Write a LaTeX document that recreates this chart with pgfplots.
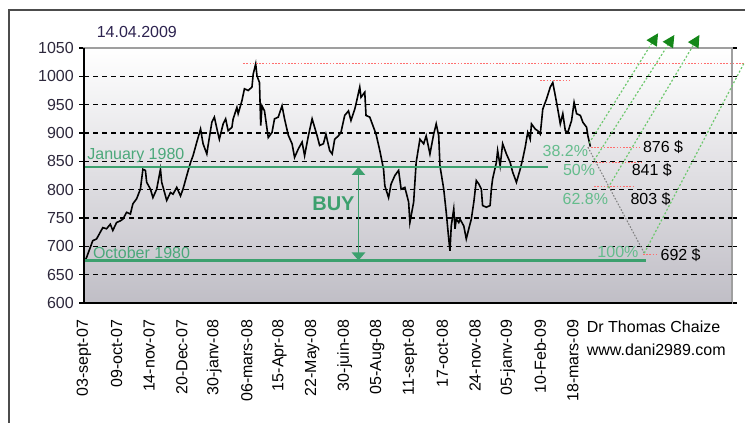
\documentclass[border=0pt,12pt]{standalone}
\usepackage{fontspec}
\setmainfont{Liberation Sans}
\usepackage{pgfplots}
\pgfplotsset{compat=1.18}
\usetikzlibrary{arrows.meta}
\definecolor{lgreen}{RGB}{60,160,110}
\definecolor{tgreen}{RGB}{75,168,122}
\definecolor{pgreen}{RGB}{100,188,140}
\definecolor{dgreen}{RGB}{20,135,25}
\definecolor{dotgreen}{RGB}{110,200,110}
\definecolor{rdot}{RGB}{255,110,110}
\definecolor{bgbot}{RGB}{192,190,198}
\definecolor{ticktext}{RGB}{45,40,60}
\definecolor{datetext}{RGB}{45,35,80}
\tikzset{rdl/.style={rdot, line width=0.9pt, dash pattern=on 1.2pt off 1.2pt}}
\begin{document}
\begin{tikzpicture}
\path[use as bounding box] (-63pt,-90pt) rectangle (495.75pt,227.25pt);
\draw[line width=1pt, black!70] (-56.25pt,-90pt) -- (-56.25pt,219.75pt) -- (495.75pt,219.75pt);
\begin{axis}[
  scale only axis, width=486pt, height=191.25pt,
  xmin=0, xmax=517, ymin=600, ymax=1050,
  clip=false,
  axis background/.style={shade, top color=white, bottom color=bgbot},
  axis line style={draw=gray!75, line width=0.8pt},
  xtick={0,26,...,390},
  xticklabels={03-sept-07,09-oct-07,14-nov-07,20-Dec-07,30-janv-08,06-mars-08,15-Apr-08,22-May-08,30-juin-08,05-Aug-08,11-sept-08,17-oct-08,24-nov-08,05-janv-09,10-Feb-09,18-mars-09},
  xtick style={draw=none},
  ytick={600,650,...,1050},
  ytick style={black, line width=0.8pt},
  tick align=outside, major tick length=3.5pt,
  extra y ticks={650,700,...,1000},
  extra y tick labels={},
  extra y tick style={ymajorgrids=true, major tick length=0pt},
  grid style={black, dash pattern=on 3.8pt off 3pt, line width=0.9pt},
  ticklabel style={font=\normalsize},
  yticklabel style={text=ticktext},
  xticklabel style={rotate=90, anchor=east},
  xticklabel shift=5pt,
  /pgf/number format/assume math mode=true,
  /pgf/number format/1000 sep={},
]
\addplot[black, line width=1.2pt, mark=none] coordinates {
(0,672)(2,680)(5,698)(7,710)(10,713)(13,725)(15,733)(18,731)(21,739)(23,728)(26,742)(29,745)(31,748)(34,760)(37,757)(39,775)(42,784)(45,801)(47,836)(49,834)(50,813)(53,801)(55,786)(58,801)(61,836)(62,813)(65,789)(66,781)(69,795)(71,792)(74,804)(77,789)(79,801)(82,825)(85,848)(87,860)(90,884)(93,907)(95,881)(98,863)(99,878)(102,919)(104,928)(107,898)(108,889)(111,916)(113,925)(115,904)(118,910)(119,925)(122,945)(123,934)(126,957)(128,978)(131,975)(134,981)(135,1004)(137,1022)(138,1001)(140,989)(141,913)(142,948)(144,939)(147,892)(150,901)(152,925)(155,928)(158,948)(160,925)(163,896)(166,881)(168,857)(171,872)(174,884)(176,860)(179,895)(182,925)(186,895)(188,878)(191,881)(193,898)(196,869)(198,863)(200,889)(203,895)(205,901)(208,931)(211,939)(213,922)(216,942)(217,951)(220,981)(221,963)(224,972)(225,931)(228,928)(231,910)(233,898)(236,869)(239,836)(240,807)(243,786)(245,810)(248,825)(251,834)(253,801)(256,804)(259,778)(260,742)(263,778)(265,848)(268,889)(271,881)(273,895)(276,863)(279,898)(281,916)(283,895)(284,842)(287,801)(289,760)(291,713)(292,692)(293,736)(295,766)(296,731)(297,748)(299,742)(300,748)(303,736)(305,713)(307,731)(309,748)(311,778)(313,816)(315,810)(317,801)(318,772)(321,769)(324,772)(325,801)(326,819)(329,848)(330,869)(332,842)(334,881)(337,863)(340,848)(342,831)(345,813)(348,836)(350,854)(352,875)(354,901)(356,889)(357,916)(360,907)(362,904)(364,898)(365,919)(366,942)(369,960)(372,981)(374,989)(376,966)(378,942)(380,916)(382,934)(384,904)(386,901)(389,922)(391,954)(393,934)(396,931)(398,919)(401,910)(402,895)(404,876)
};
% horizontal green levels
\draw[lgreen, line width=2.2pt] (axis cs:0,840) -- (axis cs:370,840);
\draw[lgreen, line width=2.2pt] (axis cs:0,675) -- (axis cs:448,675);
\node[anchor=west, text=tgreen, inner sep=0pt] at (axis cs:2.5,861) {January 1980};
\node[anchor=west, text=tgreen, inner sep=0pt] at (axis cs:7,688) {October 1980};
% BUY arrow
\draw[lgreen, line width=1.1pt, {Triangle[length=6pt,width=10pt]}-{Triangle[length=6pt,width=10pt]}] (axis cs:219,840) -- (axis cs:219,675);
\node[text=lgreen, font=\fontsize{15}{18}\selectfont\bfseries] at (axis cs:199,776) {BUY};
% red dotted levels
\draw[rdl] (axis cs:127,1022) -- (axis cs:527,1022);
\draw[rdl] (axis cs:364,992) -- (axis cs:388,992);
\draw[rdl] (axis cs:402,875) -- (axis cs:443,875);
\draw[rdl] (axis cs:406,848) -- (axis cs:445,848);
\draw[rdl] (axis cs:407,805) -- (axis cs:439,805);
\draw[rdl] (axis cs:446,685) -- (axis cs:458,685);
% gray diagonal
\draw[gray, line width=0.8pt, dash pattern=on 1.2pt off 1.2pt] (axis cs:402,875) -- (axis cs:447,688);
% green dotted arrows
\draw[dotgreen, line width=0.9pt, dash pattern=on 1.5pt off 1.5pt, -{Triangle[length=9pt,width=9pt,color=dgreen]}] (axis cs:403,882) -- (axis cs:458,1076);
\draw[dotgreen, line width=0.9pt, dash pattern=on 1.5pt off 1.5pt, -{Triangle[length=9pt,width=9pt,color=dgreen]}] (axis cs:407,852) -- (axis cs:471,1073);
\draw[dotgreen, line width=0.9pt, dash pattern=on 1.5pt off 1.5pt, -{Triangle[length=9pt,width=9pt,color=dgreen]}] (axis cs:418,803) -- (axis cs:491,1073);
\draw[dotgreen, line width=0.9pt, dash pattern=on 1.5pt off 1.5pt] (axis cs:447,688) -- (axis cs:527,1025);
% labels
\node[text=pgreen] at (axis cs:384,869) {38.2\%};
\node[text=black] at (axis cs:462,875) {876 \$};
\node[text=pgreen] at (axis cs:395,835) {50\%};
\node[text=black] at (axis cs:453,835) {841 \$};
\node[text=pgreen] at (axis cs:400,784) {62.8\%};
\node[text=black] at (axis cs:452,784) {803 \$};
\node[text=pgreen] at (axis cs:426,690) {100\%};
\node[text=black] at (axis cs:476,685) {692 \$};
\node[anchor=west, text=datetext, inner sep=0pt] at (axis cs:10,1078) {14.04.2009};
\node[anchor=west, inner sep=0pt] at (axis cs:401,558) {Dr Thomas Chaize};
\node[anchor=west, inner sep=0pt] at (axis cs:401,517) {www.dani2989.com};
% black left and bottom axis lines
\draw[black, line width=1.1pt] (rel axis cs:0,1) -- (rel axis cs:0,0) -- (rel axis cs:1,0);
\end{axis}
\end{tikzpicture}
\end{document}
